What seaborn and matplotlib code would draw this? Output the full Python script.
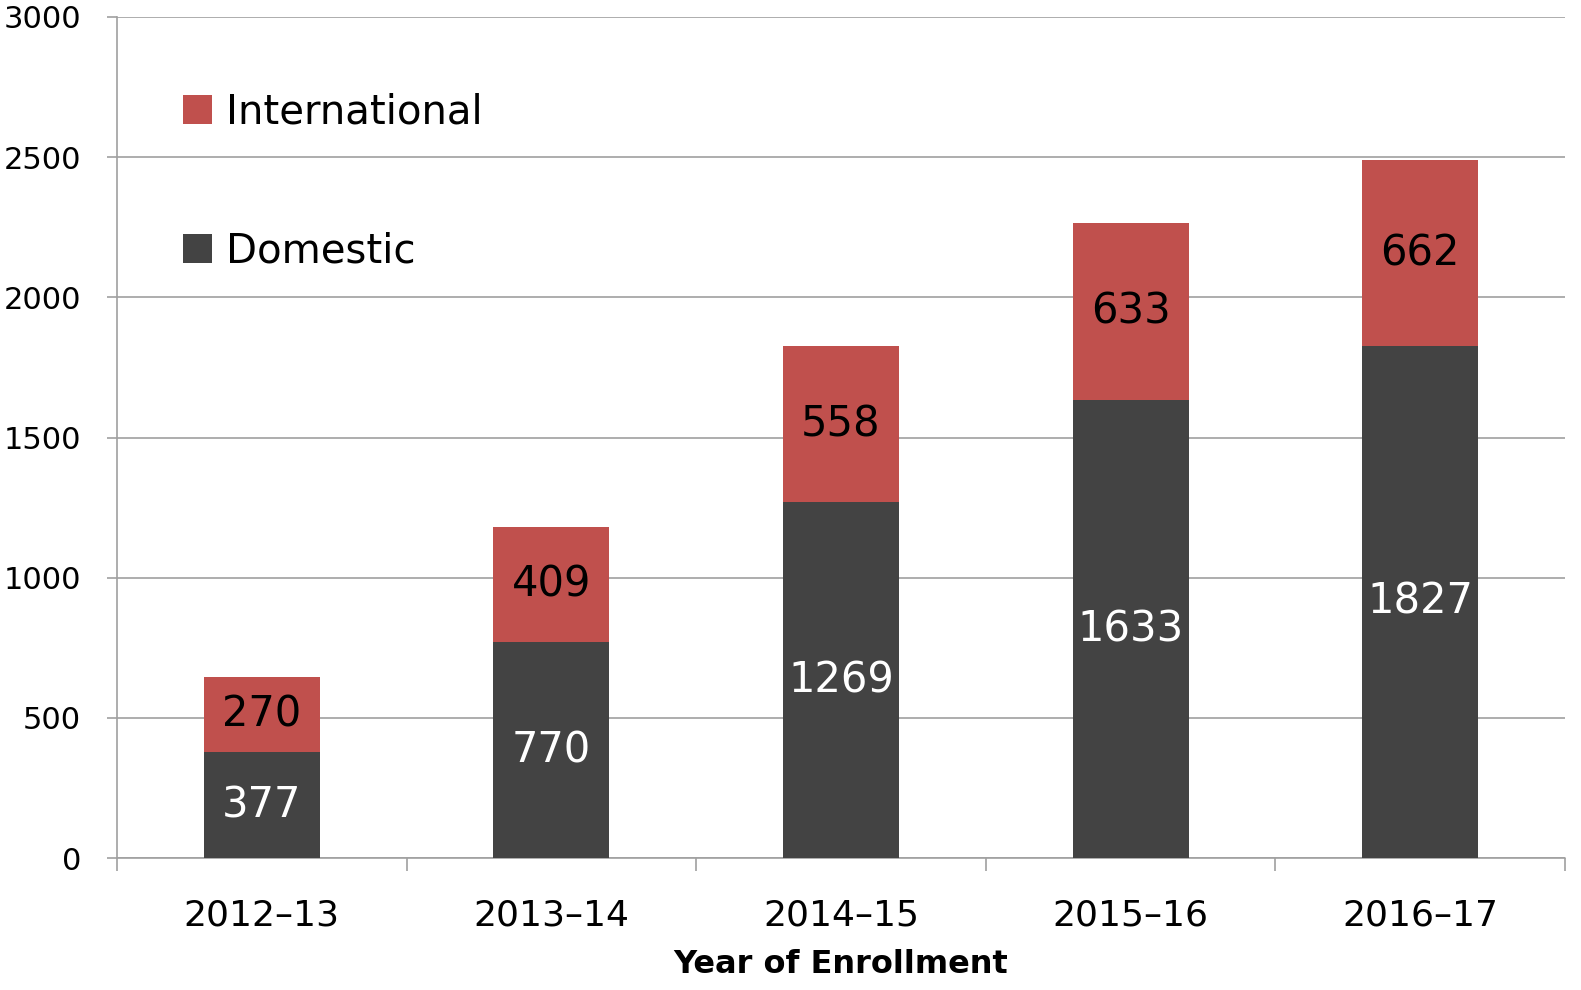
import matplotlib
matplotlib.use("Agg")
import matplotlib.pyplot as plt
import seaborn as sns
import pandas as pd
import numpy as np
from matplotlib.patches import Patch

years = ["2012–13", "2013–14", "2014–15", "2015–16", "2016–17"]
domestic = [377, 770, 1269, 1633, 1827]
international = [270, 409, 558, 633, 662]

RED = "#C0504D"
DARK = "#434343"
GRID = "#A0A0A0"

sns.set_theme(style="white")
plt.rcParams["font.family"] = ["DejaVu Sans"]
plt.rcParams["text.color"] = "black"
plt.rcParams["axes.labelcolor"] = "black"

df = pd.DataFrame({"year": years, "domestic": domestic, "international": international})
df["total"] = df["domestic"] + df["international"]

fig = plt.figure(figsize=(15.81, 9.9), dpi=100)
ax = fig.add_axes([117/1581, 1-858/990, 1448/1581, 841/990])

sns.barplot(data=df, x="year", y="total", order=years, color=RED, width=0.4,
            saturation=1, ax=ax, zorder=3, linewidth=0)
sns.barplot(data=df, x="year", y="domestic", order=years, color=DARK, width=0.4,
            saturation=1, ax=ax, zorder=4, linewidth=0)

ax.set_xlim(-0.5, 4.5)
ax.set_ylim(0, 3000)
ax.set_yticks(np.arange(0, 3001, 500))
ax.yaxis.grid(True, color=GRID, linewidth=1.2, zorder=0)
ax.set_axisbelow(True)

for s in ["top", "right", "bottom"]:
    ax.spines[s].set_visible(False)
ax.spines["left"].set_color(GRID)
ax.spines["left"].set_linewidth(1.2)

ax.tick_params(axis="y", which="major", length=7, width=1.2, color=GRID,
               labelsize=22, pad=19, labelcolor="black", direction="out", left=True)
ax.tick_params(axis="x", which="major", length=0, labelsize=26, pad=29, labelcolor="black")
ax.set_xticks(np.arange(-0.5, 5, 1.0), minor=True)
ax.tick_params(axis="x", which="minor", length=9, width=1.2, color=GRID, direction="out", bottom=True)

ax.set_xlabel("Year of Enrollment", fontsize=23, fontweight="bold", labelpad=12)
ax.set_ylabel("")

ax.axhline(0, color=GRID, linewidth=1.2, zorder=2, clip_on=False)

for i in range(len(years)):
    d = domestic[i]
    it = international[i]
    ax.text(i, d/2, str(d), ha="center", va="center", color="white", fontsize=30, zorder=5)
    ax.text(i, d + it/2, str(it), ha="center", va="center", color="black", fontsize=30, zorder=5)

handles = [Patch(facecolor=RED, edgecolor="none", label="International"),
           Patch(facecolor=DARK, edgecolor="none", label="Domestic")]
ax.legend(handles=handles, loc="upper left", bbox_to_anchor=(0.0456, 0.91),
          frameon=False, fontsize=29, handlelength=0.72, handleheight=0.72,
          handletextpad=0.35, labelspacing=2.45, borderpad=0, borderaxespad=0,
          labelcolor="black")

fig.savefig("out.png", dpi=100)
